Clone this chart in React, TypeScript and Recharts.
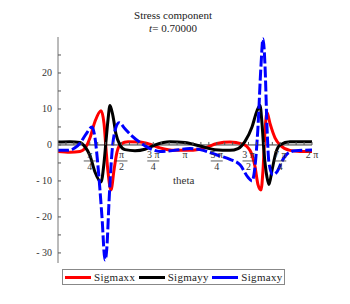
import { LineChart, Line, XAxis, YAxis, ReferenceLine, ReferenceDot } from "recharts";

// theta in radians
const sxxTheta = [0, 0.297, 0.544, 0.693, 0.792, 0.915, 1.064, 1.138, 1.187, 1.237, 1.311, 1.385, 1.459, 1.558, 1.732, 2.028, 2.276, 2.523, 2.894, 3.265, 3.636, 3.933, 4.255, 4.552, 4.749, 4.873, 4.947, 5.021, 5.071, 5.121, 5.17, 5.244, 5.368, 5.492, 5.739, 5.986, 6.283];
const sxxVal = [-1.8, -2, -1.8, -0.5, 2, 6.5, 9.5, 6, -1, -7.5, -12.5, -7, -2, 0.3, 0.9, 0.8, 0.2, -0.8, -1.5, -1.5, -0.8, 0.4, 0.8, 0.3, -1.5, -6, -11, -12.5, -7, 4, 9, 6, 2, 0, -1.5, -1.8, -1.8];

const syyTheta = [0, 0.297, 0.544, 0.668, 0.792, 0.915, 1.064, 1.138, 1.187, 1.237, 1.286, 1.36, 1.435, 1.534, 1.657, 1.905, 2.152, 2.4, 2.77, 3.141, 3.513, 3.884, 4.255, 4.453, 4.626, 4.799, 4.923, 4.997, 5.046, 5.096, 5.17, 5.219, 5.294, 5.393, 5.492, 5.739, 6.283];
const syyVal = [0.8, 0.9, 0.7, -0.5, -3, -7.5, -10.3, -5, 1, 7, 11, 8, 3, 0, -1.3, -1.6, -1.2, 0, 0.9, 0.7, -0.3, -1.3, -1.5, -1, 1, 5, 9.5, 11, 6, -2, -9, -11, -7, -2, 0, 0.9, 0.9];

const sxyTheta = [0, 0.247, 0.42, 0.544, 0.693, 0.841, 0.915, 0.99, 1.088, 1.163, 1.212, 1.261, 1.336, 1.41, 1.509, 1.657, 1.781, 2.028, 2.276, 2.523, 2.894, 3.265, 3.513, 3.933, 4.255, 4.502, 4.7, 4.799, 4.873, 4.947, 5.021, 5.071, 5.121, 5.17, 5.219, 5.318, 5.417, 5.541, 5.665, 5.863, 6.283];
const sxyVal = [-1.5, -1.5, -0.8, 0.5, 3, 5, 2, -6, -20, -32, -28, -16, -2, 4, 6.2, 4.5, 3, 0.7, -1, -1.8, -1.5, -1, -1.3, -2.8, -4, -5.5, -9, -10, -6, 5, 22, 29.5, 22, 5, -5, -8.3, -7.5, -4.5, -2.5, -1.6, -1.4];

const xTickNum = ["π", "π", "3 π", "π", "5 π", "3 π", "7 π", "2 π"];
const xTickDen = ["4", "2", "4", "", "4", "2", "4", ""];
const yTicks = [-30, -25, -20, -15, -10, -5, 0, 5, 10, 15, 20, 25];

const zip = (t: number[], v: number[]) => t.map((theta, i) => ({ theta, v: v[i] }));
const sxx = zip(sxxTheta, sxxVal);
const syy = zip(syyTheta, syyVal);
const sxy = zip(sxyTheta, sxyVal);

const minorX = Array.from({ length: 32 }, (_, i) => ((i + 1) * Math.PI) / 16);

const FONT = "'Liberation Serif', 'DejaVu Serif', serif";

function YTick(props: any) {
  const { x, y, payload } = props;
  const v = payload.value;
  const major = v % 10 === 0;
  return (
    <g>
      <line x1={x} x2={x + 3} y1={y} y2={y} stroke="#555" />
      {major && (
        <text x={x - 6} y={y + 3.5} textAnchor="end" fontSize={10} fontFamily={FONT} fill="#333">
          {v < 0 ? "- " + Math.abs(v) : String(v)}
        </text>
      )}
    </g>
  );
}

function XTickShape(props: any) {
  const { cx, cy, idx } = props;
  const k = idx + 1;
  const major = k % 4 === 0;
  const li = k / 4 - 1;
  return (
    <g>
      <line x1={cx} x2={cx} y1={cy} y2={cy - 3} stroke="#555" />
      {major && xTickDen[li] === "" && (
        <text x={cx} y={cy + 13} textAnchor="middle" fontSize={10} fontFamily={FONT} fill="#333">
          {xTickNum[li]}
        </text>
      )}
      {major && xTickDen[li] !== "" && (
        <g>
          <text x={cx} y={cy + 13} textAnchor="middle" fontSize={10} fontFamily={FONT} fill="#333">
            {xTickNum[li]}
          </text>
          <line x1={cx - 6} x2={cx + 6} y1={cy + 16} y2={cy + 16} stroke="#333" strokeWidth={0.8} />
          <text x={cx} y={cy + 25} textAnchor="middle" fontSize={10} fontFamily={FONT} fill="#333">
            {xTickDen[li]}
          </text>
        </g>
      )}
    </g>
  );
}

const legendItems = [
  { name: "Sigmaxx", color: "#ff0000" },
  { name: "Sigmayy", color: "#000000" },
  { name: "Sigmaxy", color: "#0000ff" },
];

export default function App() {
  return (
    <div style={{ position: "absolute", left: 0, top: 0, width: 350, height: 304, background: "#fff", fontFamily: FONT }}>
      <div style={{ position: "absolute", left: 0, width: 346, top: 9, textAlign: "center", fontSize: 11, lineHeight: "13px", color: "#222" }}>
        Stress component
        <br />
        <i>t</i>= 0.70000
      </div>
      <LineChart width={350} height={304} margin={{ top: 37, right: 38, bottom: 41, left: 18 }}>
        <XAxis type="number" dataKey="theta" domain={[0, 2 * Math.PI]} hide allowDataOverflow />
        <YAxis
          type="number"
          domain={[-32.8, 30]}
          ticks={yTicks}
          interval={0}
          width={40}
          tickSize={0}
          tickMargin={0}
          tickLine={false}
          axisLine={{ stroke: "#777" }}
          tick={<YTick />}
          allowDataOverflow
        />
        <ReferenceLine y={0} stroke="#333" strokeWidth={1} />
        {minorX.map((t, i) => (
          <ReferenceDot key={i} x={t} y={0} r={0} ifOverflow="visible" shape={(p: any) => <XTickShape {...p} idx={i} />} />
        ))}
        <Line data={sxx} dataKey="v" type="monotone" stroke="#ff0000" strokeWidth={3} dot={false} isAnimationActive={false} />
        <Line data={syy} dataKey="v" type="monotone" stroke="#000000" strokeWidth={3} dot={false} isAnimationActive={false} />
        <Line data={sxy} dataKey="v" type="monotone" stroke="#0000ff" strokeWidth={3} strokeDasharray="11 3" dot={false} isAnimationActive={false} />
      </LineChart>
      <div style={{ position: "absolute", left: 173, top: 174, fontSize: 11, color: "#333" }}>theta</div>
      <div style={{ position: "absolute", left: 62, top: 269, width: 221, height: 14, border: "1px solid #888", display: "flex", alignItems: "center", fontSize: 11, color: "#222" }}>
        {legendItems.map((it) => (
          <div key={it.name} style={{ display: "flex", alignItems: "center", marginLeft: 2, width: 73 }}>
            <span style={{ display: "inline-block", width: 26, height: 3, background: it.color, marginRight: 3 }} />
            <span style={{ letterSpacing: 0.3 }}>{it.name}</span>
          </div>
        ))}
      </div>
    </div>
  );
}
